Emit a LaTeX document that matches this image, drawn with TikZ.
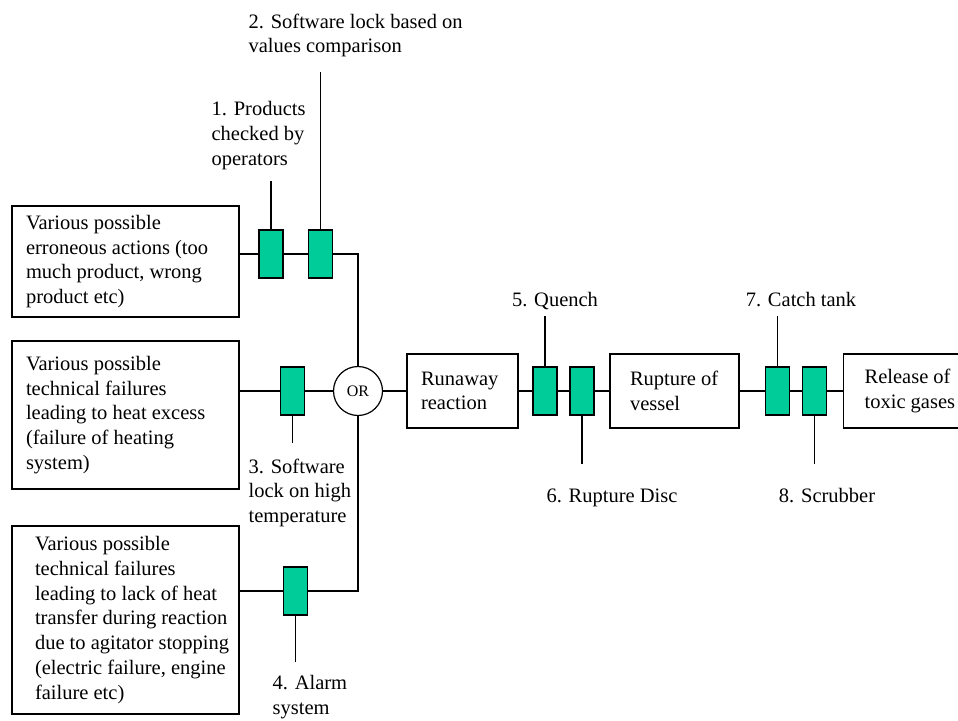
\documentclass[tikz,border=0pt]{standalone}
\usepackage{fontspec}
\setmainfont{Liberation Serif}
\usetikzlibrary{positioning}
\definecolor{barrier}{RGB}{0,204,153}

\begin{document}
\begin{tikzpicture}[x=1pt, y=-1pt,
        every node/.style={font=\fontsize{20.5}{24.7}\selectfont},
        event/.style={draw, line width=1.2pt, inner sep=0pt},
        txt/.style={align=left, inner sep=0pt},
        barr/.style={draw, line width=1.2pt, fill=barrier, minimum width=24pt, minimum height=48pt, inner sep=0pt},
        gate/.style={draw, circle, line width=1.2pt, minimum size=49pt, inner sep=0pt, font=\fontsize{16}{18}\selectfont},
        lbl/.style={inner sep=0pt, align=left},
        line width=1.2pt]
    \useasboundingbox (0,0) rectangle (958,720);

    % causes
    \node[event, minimum width=227pt, minimum height=111pt] (cause1) at (125.5,261.5) {};
    \node[txt, right=14pt of cause1.west] (cause1txt)
        {Various possible\\erroneous actions (too\\much product, wrong\\product etc)};
    \node[event, minimum width=227pt, minimum height=148pt] (cause2) at (125.5,415) {};
    \node[txt, right=14pt of cause2.west] (cause2txt)
        {Various possible\\technical failures\\leading to heat excess\\(failure of heating\\system)};
    \node[event, minimum width=227pt, minimum height=188pt] (cause3) at (125.5,620) {};
    \node[txt, right=23pt of cause3.west] (cause3txt)
        {Various possible\\technical failures\\leading to lack of heat\\transfer during reaction\\due to agitator stopping\\(electric failure, engine\\failure etc)};

    % gate and consequences
    \node[gate] (or) at (358,391) {OR};
    \node[event, minimum width=111pt, minimum height=74pt] (run) at (462.5,391) {};
    \node[txt, right=14pt of run.west] (runtxt) {Runaway\\reaction};
    \node[event, minimum width=129pt, minimum height=74pt] (rup) at (674.5,391) {};
    \node[txt, right=20pt of rup.west] (ruptxt) {Rupture of\\vessel};
    \node[event, minimum width=140pt, minimum height=74pt, anchor=west] (rel) at (843,391) {};
    \node[txt, right=21pt of rel.west] (reltxt) {Release of\\toxic gases};

    % barriers
    \node[barr] (b1) at (271,254) {};
    \node[barr] (b2) at (320.5,254) {};
    \node[barr] (b3) at (292.5,391) {};
    \node[barr] (b4) at (295.5,591) {};
    \node[barr] (b5) at (545,391) {};
    \node[barr] (b6) at (582,391) {};
    \node[barr] (b7) at (777.5,391) {};
    \node[barr] (b8) at (814.5,391) {};

    % main lines
    \draw (cause1.east |- b1) -- (b1) -- (b2) -| (or);
    \draw (cause2.east |- b3) -- (b3) -- (or) -- (run) -- (b5) -- (b6) -- (rup) -- (b7) -- (b8) -- (rel);
    \draw (cause3.east |- b4) -- (b4) -| (or);

    % barrier labels
    \node[lbl, anchor=north west] (l1) at (211,101) {1. Products\\checked by\\operators};
    \node[lbl, anchor=north west] (l2) at (248,13) {2. Software lock based on\\values comparison};
    \node[lbl, anchor=north west] (l3) at (248,458) {3. Software\\lock on high\\temperature};
    \node[lbl, anchor=north west] (l4) at (272,675) {4. Alarm\\system};
    \node[lbl, anchor=base] (l5) at (555,306) {5. Quench};
    \node[lbl, anchor=base] (l6) at (612,502) {6. Rupture Disc};
    \node[lbl, anchor=base] (l7) at (801,306) {7. Catch tank};
    \node[lbl, anchor=base] (l8) at (827,502) {8. Scrubber};

    \coordinate (s1) at (271,181);
    \coordinate (s2) at (320.5,72);
    \coordinate (s3) at (292.5,443);
    \coordinate (s4) at (295.5,662);
    \coordinate (s5) at (545,316);
    \coordinate (s6) at (582,464);
    \coordinate (s7) at (777.5,316);
    \coordinate (s8) at (814.5,464);
    \draw (b1) -- (s1);
    \draw (b2) -- (s2);
    \draw (b3) -- (s3);
    \draw (b4) -- (s4);
    \draw (b5) -- (s5);
    \draw (b6) -- (s6);
    \draw (b7) -- (s7);
    \draw (b8) -- (s8);
\end{tikzpicture}
\end{document}
